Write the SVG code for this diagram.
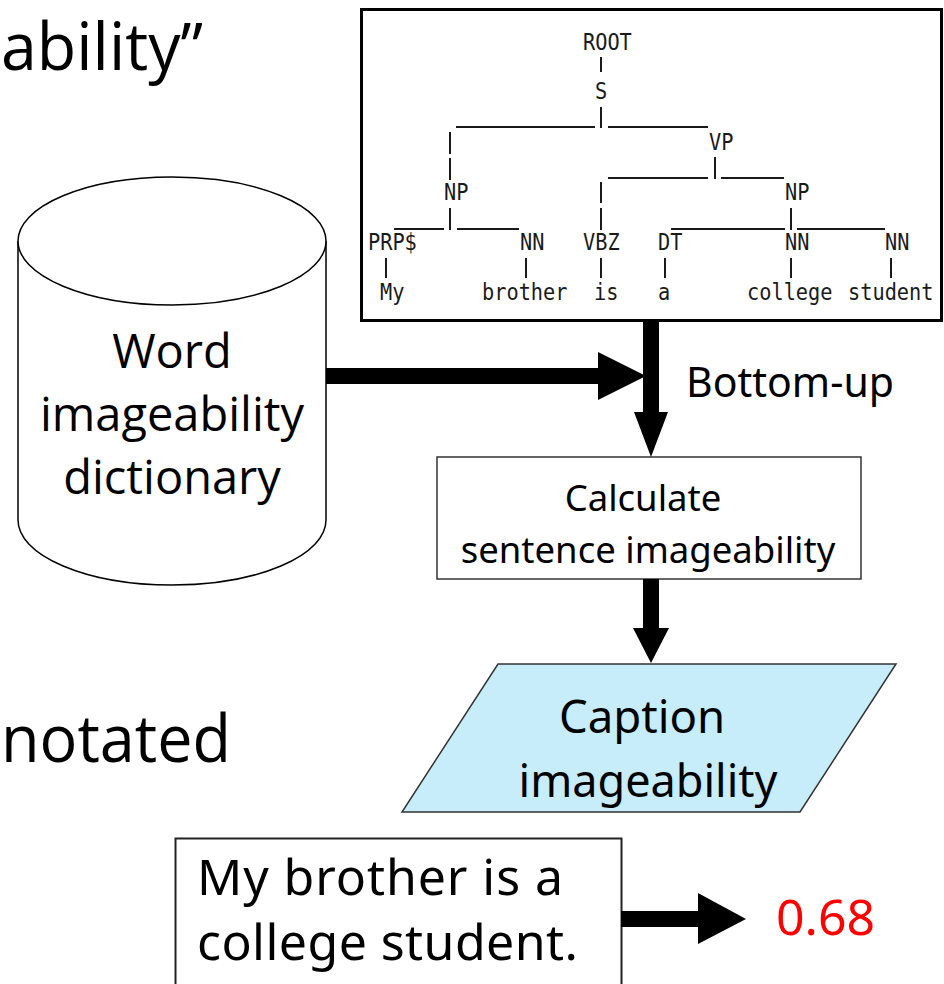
<svg xmlns="http://www.w3.org/2000/svg" width="944" height="984" viewBox="0 0 944 984">
<style>
.big{font-family:"Open Sans","Liberation Sans",sans-serif;fill:#000}
.jp{font-family:"Noto Sans","Liberation Sans",sans-serif;fill:#000}
.mono{font-family:"DejaVu Sans Mono","Liberation Mono",monospace;font-size:20.3px;fill:#1a1a1a}
.tl{stroke:#1a1a1a;stroke-width:2;fill:none}
.arrow{fill:#000;stroke:none}
</style>
<rect width="944" height="984" fill="#fff"/>

<g id="title-fragment">
<text class="big" x="1" y="70" font-size="65" textLength="202" lengthAdjust="spacingAndGlyphs">ability”</text>
</g>
<g id="annotated-fragment">
<text class="big" x="1" y="762" font-size="66" textLength="230" lengthAdjust="spacingAndGlyphs">notated</text>
</g>

<g id="parse-tree">
<rect x="361.5" y="9.5" width="580" height="311" fill="#fff" stroke="#000" stroke-width="3"/>
<g class="mono" transform="scale(1 1.15)">
<text x="583" y="43.48">ROOT</text>
<text x="595" y="86.09">S</text>
<text x="709" y="130.43">VP</text>
<text x="444" y="173.91">NP</text>
<text x="785" y="173.91">NP</text>
<text x="368" y="217.39">PRP$</text>
<text x="520" y="217.39">NN</text>
<text x="583" y="217.39">VBZ</text>
<text x="658" y="217.39">DT</text>
<text x="785" y="217.39">NN</text>
<text x="885" y="217.39">NN</text>
<text x="380" y="260.87">My</text>
<text x="482" y="260.87">brother</text>
<text x="594" y="260.87">is</text>
<text x="658" y="260.87">a</text>
<text x="747" y="260.87">college</text>
<text x="848" y="260.87">student</text>
</g>
<g class="tl">
<line x1="601" y1="57" x2="601" y2="72"/>
<line x1="601" y1="107" x2="601" y2="128"/>
<line x1="456" y1="127" x2="595" y2="127"/>
<line x1="608" y1="127" x2="708" y2="127"/>
<line x1="450" y1="132" x2="450" y2="154"/>
<line x1="450" y1="158" x2="450" y2="180"/>
<line x1="715" y1="157" x2="715" y2="179"/>
<line x1="608" y1="178" x2="708" y2="178"/>
<line x1="721" y1="178" x2="784" y2="178"/>
<line x1="601" y1="182" x2="601" y2="203"/>
<line x1="601" y1="208" x2="601" y2="230"/>
<line x1="450" y1="208" x2="450" y2="230"/>
<line x1="394" y1="229" x2="444" y2="229"/>
<line x1="457" y1="229" x2="519" y2="229"/>
<line x1="791" y1="208" x2="791" y2="230"/>
<line x1="671" y1="229" x2="785" y2="229"/>
<line x1="797" y1="229" x2="885" y2="229"/>
<line x1="386" y1="258" x2="386" y2="278"/>
<line x1="526" y1="258" x2="526" y2="278"/>
<line x1="601" y1="258" x2="601" y2="278"/>
<line x1="665" y1="258" x2="665" y2="278"/>
<line x1="791" y1="258" x2="791" y2="278"/>
<line x1="891" y1="258" x2="891" y2="278"/>
</g>
</g>

<g id="dictionary">
<path d="M18,241 L18,520 A154,65 0 0 0 326,520 L326,241" fill="#fff" stroke="#000" stroke-width="1.5"/>
<ellipse cx="172" cy="241" rx="154" ry="64" fill="#fff" stroke="#000" stroke-width="1.5"/>
<text class="big" x="172" y="368" font-size="47" text-anchor="middle">Word</text>
<text class="big" x="172" y="431" font-size="47" text-anchor="middle">imageability</text>
<text class="big" x="172" y="494" font-size="47" text-anchor="middle">dictionary</text>
</g>

<g id="bottom-up-label">
<text class="jp" x="686" y="397" font-size="41">Bottom-up</text>
</g>

<g id="calculate">
<rect x="437" y="457" width="424" height="122" fill="#fff" stroke="#333" stroke-width="1.5"/>
<text class="jp" x="643" y="511" font-size="36.5" text-anchor="middle">Calculate</text>
<text class="jp" x="648" y="563" font-size="36.5" text-anchor="middle">sentence imageability</text>
</g>

<g id="caption-imageability">
<polygon points="498,664 896,664 800,812 402,812" fill="#C7ECFA" stroke="#333" stroke-width="1.5"/>
<text class="jp" x="642" y="733" font-size="45.5" text-anchor="middle">Caption</text>
<text class="jp" x="648" y="797" font-size="45" text-anchor="middle">imageability</text>
</g>

<g id="example-caption">
<rect x="175.5" y="838.5" width="446" height="160" fill="#fff" stroke="#222" stroke-width="2"/>
<text class="jp" x="197" y="895" font-size="50" textLength="366" lengthAdjust="spacing">My brother is a</text>
<text class="jp" x="197" y="960" font-size="50" textLength="381" lengthAdjust="spacing">college student.</text>
</g>

<g id="score">
<text class="jp" x="776" y="935" font-size="50" style="fill:#FF0000">0.68</text>
</g>

<g id="connectors">
<polygon class="arrow" points="326,368 598,368 598,352 646,376 598,400 598,384 326,384"/>
<polygon class="arrow" points="643,322 659,322 659,412 668,412 651,457 634,412 643,412"/>
<polygon class="arrow" points="643,579 659,579 659,628 669,628 651,663 633,628 643,628"/>
<polygon class="arrow" points="621,911 698,911 698,893 746,919 698,944 698,927 621,927"/>
</g>
</svg>
